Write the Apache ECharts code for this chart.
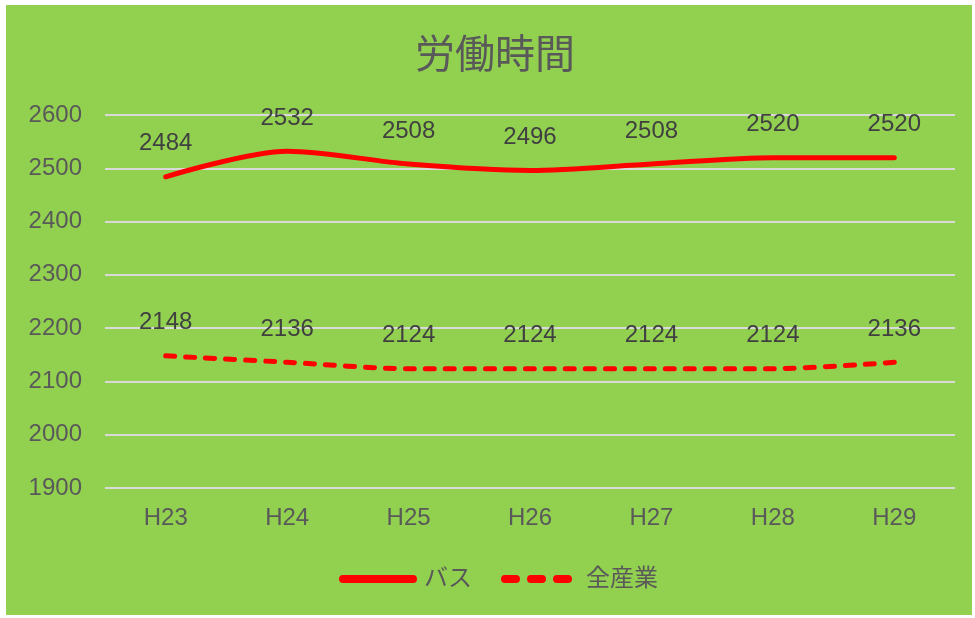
<!DOCTYPE html>
<html><head><meta charset="utf-8">
<script src="https://cdn.jsdelivr.net/npm/echarts@6/dist/echarts.min.js"></script>
<style>html,body{margin:0;padding:0;background:#fff;}#c{position:absolute;left:6px;top:5px;width:966px;height:610px;}</style>
</head><body><div id="c"></div>
<script>
const categories = ['H23','H24','H25','H26','H27','H28','H29'];
const busValues = [2484,2532,2508,2496,2508,2520,2520];
const allValues = [2148,2136,2124,2124,2124,2124,2136];
const seriesNames = ['バス','全産業'];
const titleText = '労働時間';
const font = '"Liberation Sans", Arial, "Noto Sans CJK JP", sans-serif';
const chart = echarts.init(document.getElementById('c'));
const label = {show:true, position:'top', distance:21, color:'#404040', fontSize:24, fontFamily:font};
const solidIcon = 'path://M4,0H74A4,4 0 0 1 74,8H4A4,4 0 0 1 4,0Z';
const dashIcon = 'path://M4,0H15A4,4 0 0 1 15,8H4A4,4 0 0 1 4,0Z M30,0H41A4,4 0 0 1 41,8H30A4,4 0 0 1 30,0Z M56,0H67A4,4 0 0 1 67,8H56A4,4 0 0 1 56,0Z M77.9,3.9H78V4H77.9Z';
chart.setOption({
  backgroundColor:'#92D050',
  title:{text:titleText, left:404, top:27, textStyle:{color:'#595959', fontSize:40, fontWeight:'normal', fontFamily:font}},
  legend:{bottom:19, left:328, itemWidth:78, itemHeight:8, itemGap:29,
    textStyle:{color:'#595959', fontSize:24, fontFamily:font, padding:[0,0,0,2]},
    data:[{name:seriesNames[0], icon:solidIcon, itemStyle:{color:'#FF0000', opacity:1, borderWidth:0}},
          {name:seriesNames[1], icon:dashIcon, itemStyle:{color:'#FF0000', opacity:1, borderWidth:0}}]},
  grid:{left:99, right:17, top:110, bottom:127},
  xAxis:{type:'category', data:categories, boundaryGap:true, axisLine:{show:false}, axisTick:{show:false},
    axisLabel:{color:'#595959', fontSize:24, margin:18, fontFamily:font}},
  yAxis:{type:'value', min:1900, max:2600, interval:100, axisLine:{show:false}, axisTick:{show:false},
    axisLabel:{color:'#595959', fontSize:24, margin:23, fontFamily:font, formatter:v=>String(v)},
    splitLine:{lineStyle:{color:'#D9D9D9', width:2}}},
  series:[
    {name:seriesNames[0], type:'line', data:busValues, smooth:0.3, symbol:'circle', symbolSize:0.1, showSymbol:true,
      itemStyle:{color:'#FF0000'},
      lineStyle:{color:'#FF0000', width:5, cap:'round'}, label:label},
    {name:seriesNames[1], type:'line', data:allValues, smooth:0.3, symbol:'circle', symbolSize:0.1, showSymbol:true,
      itemStyle:{color:'#FF0000'},
      lineStyle:{color:'#FF0000', width:5, type:[9,11], cap:'round'}, label:label}
  ]
});
</script></body></html>
